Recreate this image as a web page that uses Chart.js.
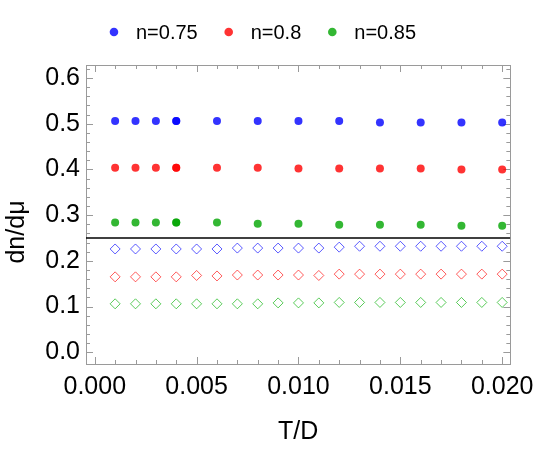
<!DOCTYPE html>
<html>
<head>
<meta charset="utf-8">
<script src="https://cdn.jsdelivr.net/npm/chart.js@4"></script>
<style>
    html, body { margin: 0; padding: 0; background: #ffffff; }
    #wrap { width: 542px; height: 450px; }
</style>
</head>
<body>
<div id="wrap"><canvas id="dndmu" width="542" height="450"></canvas></div>
<script>
// Filled dots (T/D values, 0.004 appears twice in the source plot)
const tDots = [0.001, 0.002, 0.003, 0.004, 0.004, 0.006, 0.008, 0.010, 0.012, 0.014, 0.016, 0.018, 0.020];
const dots075 = [0.506, 0.506, 0.506, 0.506, 0.506, 0.506, 0.506, 0.506, 0.506, 0.503, 0.503, 0.503, 0.503];
const dots080 = [0.404, 0.404, 0.404, 0.404, 0.404, 0.404, 0.404, 0.402, 0.402, 0.402, 0.402, 0.400, 0.400];
const dots085 = [0.284, 0.284, 0.284, 0.284, 0.284, 0.284, 0.281, 0.281, 0.279, 0.279, 0.279, 0.277, 0.277];

// Open diamonds
const tDiam = [0.001, 0.002, 0.003, 0.004, 0.005, 0.006, 0.007, 0.008, 0.009, 0.010,
               0.011, 0.012, 0.013, 0.014, 0.015, 0.016, 0.017, 0.018, 0.019, 0.020];
const diam075 = [0.226, 0.226, 0.226, 0.226, 0.226, 0.226, 0.228, 0.228, 0.228, 0.228,
                 0.228, 0.230, 0.232, 0.232, 0.232, 0.232, 0.232, 0.232, 0.232, 0.232];
const diam080 = [0.165, 0.165, 0.165, 0.165, 0.168, 0.167, 0.169, 0.169, 0.169, 0.169,
                 0.168, 0.171, 0.171, 0.171, 0.171, 0.171, 0.171, 0.171, 0.171, 0.171];
const diam085 = [0.106, 0.106, 0.106, 0.106, 0.106, 0.106, 0.106, 0.106, 0.108, 0.108,
                 0.108, 0.109, 0.109, 0.109, 0.109, 0.109, 0.109, 0.109, 0.109, 0.109];

const refLevel = 0.25;
const seriesLabels = ['n=0.75', 'n=0.8', 'n=0.85'];

const xMajor = [0.000, 0.005, 0.010, 0.015, 0.020];
const yMajor = [0.0, 0.1, 0.2, 0.3, 0.4, 0.5, 0.6];
const xMinorStep = 0.001;
const yMinorStep = 0.02;
const xRange = [-0.00043, 0.0204];
const yRange = [-0.0257, 0.6286];

const FONT = '"Liberation Sans", Arial, sans-serif';
const FRAME = '#9a9a9a';

function pts(xs, ys) {
    return xs.map((x, i) => ({ x: x, y: ys[i] }));
}

// Mathematica style frame: inward ticks on all four sides
const frameTicks = {
    id: 'frameTicks',
    beforeDatasetsDraw(chart) {
        const { ctx, chartArea: a, scales } = chart;
        const x = scales.x, y = scales.y;
        ctx.save();
        ctx.strokeStyle = FRAME;
        ctx.lineWidth = 1;
        ctx.strokeRect(Math.round(a.left) + 0.5, Math.round(a.top) + 0.5,
                       Math.round(a.right - a.left), Math.round(a.bottom - a.top));
        ctx.beginPath();
        for (let i = 0; i <= 20; i++) {
            const v = i * xMinorStep;
            const len = i % 5 === 0 ? 7 : 4;
            const px = Math.round(x.getPixelForValue(v)) + 0.5;
            ctx.moveTo(px, a.bottom); ctx.lineTo(px, a.bottom - len);
            ctx.moveTo(px, a.top); ctx.lineTo(px, a.top + len);
        }
        for (let i = 0; i <= 31; i++) {
            const v = i * yMinorStep;
            const len = i % 5 === 0 ? 7 : 4;
            const py = Math.round(y.getPixelForValue(v)) + 0.5;
            ctx.moveTo(a.left, py); ctx.lineTo(a.left + len, py);
            ctx.moveTo(a.right, py); ctx.lineTo(a.right - len, py);
        }
        ctx.stroke();
        ctx.restore();
    }
};

// Legend for the filled series above the frame, plus the y axis label
const annotations = {
    id: 'annotations',
    afterDraw(chart) {
        const { ctx } = chart;
        const centerX = 265, rowY = 32, dotGap = 22, itemGap = 31;
        ctx.save();
        ctx.font = '20px ' + FONT;
        ctx.textBaseline = 'middle';
        const widths = seriesLabels.map(t => ctx.measureText(t).width);
        let total = 0;
        widths.forEach((w, i) => { total += dotGap + w + (i < widths.length - 1 ? itemGap : 0); });
        let cx = centerX - total / 2;
        seriesLabels.forEach((t, i) => {
            ctx.fillStyle = chart.data.datasets[i].backgroundColor;
            ctx.beginPath();
            ctx.arc(cx, rowY, 4.3, 0, Math.PI * 2);
            ctx.fill();
            ctx.fillStyle = '#000';
            ctx.fillText(t, cx + dotGap, rowY + 1);
            cx += dotGap + widths[i] + itemGap;
        });

        // y title sits a little below the middle of the frame, as in the original
        ctx.translate(17, 232);
        ctx.rotate(-Math.PI / 2);
        ctx.font = '25px ' + FONT;
        ctx.textAlign = 'center';
        ctx.fillText('dn/dμ', 0, 0);
        ctx.restore();
    }
};

const dotColors = ['rgba(0, 0, 255, 0.8)', 'rgba(255, 0, 0, 0.8)', 'rgba(0, 165, 0, 0.8)'];
const diamColors = ['rgba(0, 0, 255, 0.65)', 'rgba(255, 0, 0, 0.65)', 'rgba(0, 175, 0, 0.65)'];

function dotSet(label, ys, i) {
    return {
        label: label,
        data: pts(tDots, ys),
        backgroundColor: dotColors[i],
        borderWidth: 0,
        pointRadius: 4,
        pointStyle: 'circle'
    };
}

function diamSet(label, ys, i) {
    return {
        label: label,
        data: pts(tDiam, ys),
        backgroundColor: 'rgba(0,0,0,0)',
        borderColor: diamColors[i],
        borderWidth: 1,
        pointRadius: 5,
        pointStyle: 'rectRot'
    };
}

const ctx = document.getElementById('dndmu');

window.dndmuChart = new Chart(ctx, {
    type: 'scatter',
    data: {
        datasets: [
            dotSet(seriesLabels[0], dots075, 0),
            dotSet(seriesLabels[1], dots080, 1),
            dotSet(seriesLabels[2], dots085, 2),
            diamSet(seriesLabels[0] + ' (open)', diam075, 0),
            diamSet(seriesLabels[1] + ' (open)', diam080, 1),
            diamSet(seriesLabels[2] + ' (open)', diam085, 2),
            {
                type: 'line',
                label: 'reference',
                data: [{ x: xRange[0], y: refLevel }, { x: xRange[1], y: refLevel }],
                borderColor: '#000000',
                borderWidth: 1.4,
                pointRadius: 0
            }
        ]
    },
    options: {
        responsive: false,
        animation: false,
        layout: {
            padding: { top: 65, right: 28, left: 0, bottom: 0 }
        },
        plugins: {
            legend: { display: false },
            tooltip: { enabled: false }
        },
        scales: {
            x: {
                type: 'linear',
                min: xRange[0],
                max: xRange[1],
                grid: { display: false, drawTicks: false },
                border: { display: false },
                afterBuildTicks: s => { s.ticks = xMajor.map(v => ({ value: v })); },
                afterFit: s => { s.height = 86; },
                ticks: {
                    padding: 8,
                    color: '#000',
                    font: { family: FONT, size: 25 },
                    maxRotation: 0,
                    callback: v => v.toFixed(3)
                },
                title: {
                    display: true,
                    text: 'T/D',
                    color: '#000',
                    font: { family: FONT, size: 25 },
                    padding: { top: 0, bottom: 3 }
                }
            },
            y: {
                type: 'linear',
                min: yRange[0],
                max: yRange[1],
                grid: { display: false, drawTicks: false },
                border: { display: false },
                afterBuildTicks: s => { s.ticks = yMajor.map(v => ({ value: v })); },
                afterFit: s => { s.width = 86; },
                ticks: {
                    padding: 6,
                    color: '#000',
                    font: { family: FONT, size: 25 },
                    callback: v => v.toFixed(1)
                },
                title: { display: false }
            }
        }
    },
    plugins: [frameTicks, annotations]
});
</script>
</body>
</html>
